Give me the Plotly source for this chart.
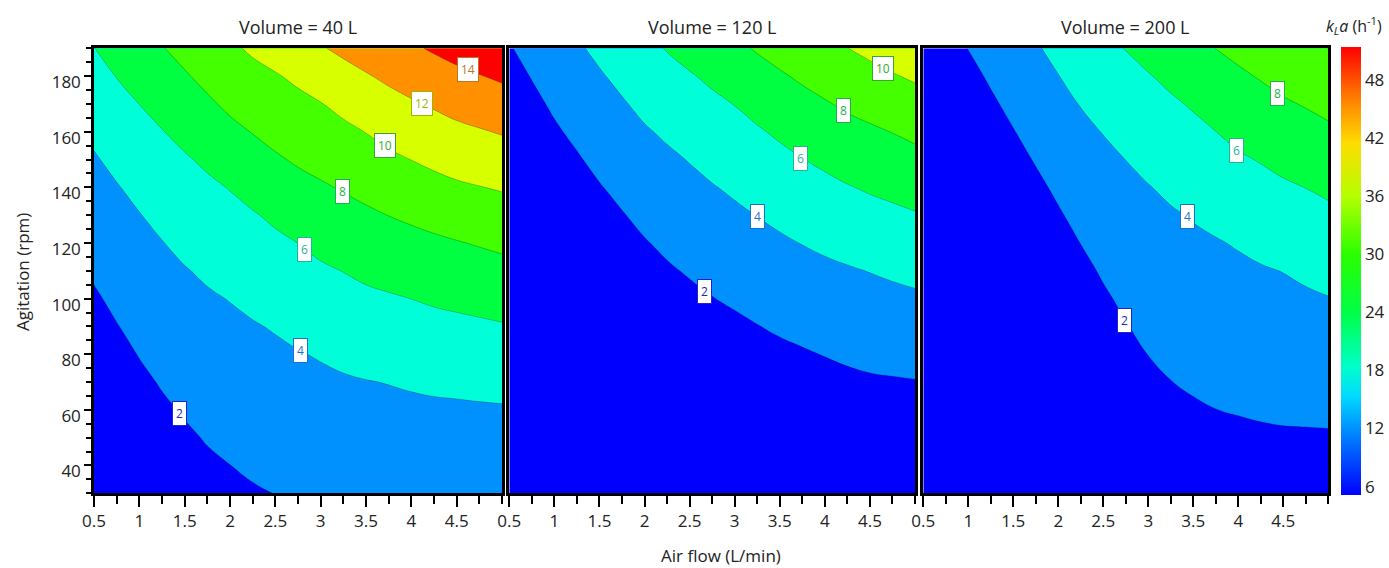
import plotly.graph_objects as go

# ---- data: kLa response surfaces (h^-1) ----
AIR_FLOW = [0.5, 0.75, 1.0, 1.25, 1.5, 1.75, 2.0, 2.25, 2.5, 2.75,
            3.0, 3.25, 3.5, 3.75, 4.0, 4.25, 4.5, 4.75, 5.0]             # L/min
AGITATION = [30, 40, 50, 60, 70, 80, 90, 100, 110, 120,
             130, 140, 150, 160, 170, 180, 190]                           # rpm
VOLUMES = ["40", "120", "200"]                                             # L

# one list per air-flow value, running up the agitation axis (30 -> 190 rpm)
KLA_40L = [
    [0.30, 0.30, 0.30, 0.30, 0.58, 0.99, 1.39, 1.80, 2.21, 2.61, 3.02, 3.43, 3.84, 4.33, 4.89, 5.44, 5.97],
    [0.30, 0.30, 0.37, 0.77, 1.16, 1.55, 1.94, 2.33, 2.73, 3.12, 3.51, 3.90, 4.41, 4.95, 5.50, 6.04, 6.61],
    [0.30, 0.55, 0.93, 1.30, 1.68, 2.06, 2.43, 2.81, 3.19, 3.56, 3.94, 4.44, 4.96, 5.48, 6.01, 6.63, 7.26],
    [0.66, 1.03, 1.39, 1.76, 2.12, 2.49, 2.85, 3.22, 3.58, 3.95, 4.43, 4.94, 5.44, 5.94, 6.59, 7.25, 7.92],
    [1.06, 1.42, 1.77, 2.13, 2.48, 2.84, 3.20, 3.55, 3.91, 4.37, 4.86, 5.34, 5.83, 6.46, 7.15, 7.84, 8.52],
    [1.41, 1.76, 2.10, 2.44, 2.79, 3.13, 3.47, 3.82, 4.23, 4.72, 5.21, 5.70, 6.28, 7.01, 7.74, 8.44, 9.11],
    [1.66, 1.99, 2.34, 2.68, 3.02, 3.35, 3.69, 4.05, 4.55, 5.05, 5.55, 6.07, 6.83, 7.59, 8.32, 9.00, 9.69],
    [1.87, 2.20, 2.54, 2.88, 3.21, 3.55, 3.89, 4.34, 4.85, 5.36, 5.87, 6.56, 7.32, 8.06, 8.77, 9.48, 10.26],
    [2.02, 2.36, 2.70, 3.05, 3.39, 3.73, 4.11, 4.64, 5.16, 5.68, 6.29, 7.04, 7.80, 8.50, 9.18, 9.86, 10.80],
    [2.15, 2.50, 2.86, 3.21, 3.56, 3.92, 4.41, 4.95, 5.48, 6.01, 6.75, 7.48, 8.20, 8.87, 9.55, 10.34, 11.33],
    [2.27, 2.63, 2.99, 3.35, 3.71, 4.11, 4.66, 5.22, 5.77, 6.41, 7.11, 7.81, 8.52, 9.23, 9.94, 10.89, 11.87],
    [2.36, 2.73, 3.10, 3.47, 3.84, 4.33, 4.89, 5.46, 6.03, 6.73, 7.42, 8.13, 8.87, 9.61, 10.46, 11.40, 12.36],
    [2.45, 2.83, 3.20, 3.58, 3.95, 4.51, 5.10, 5.68, 6.32, 7.02, 7.72, 8.47, 9.25, 10.04, 10.95, 11.87, 12.82],
    [2.53, 2.90, 3.28, 3.65, 4.04, 4.64, 5.24, 5.84, 6.54, 7.28, 8.02, 8.84, 9.66, 10.53, 11.42, 12.33, 13.29],
    [2.60, 2.97, 3.35, 3.72, 4.15, 4.77, 5.39, 6.01, 6.76, 7.50, 8.28, 9.15, 10.02, 10.91, 11.81, 12.78, 13.76],
    [2.65, 3.02, 3.40, 3.77, 4.25, 4.89, 5.53, 6.20, 6.95, 7.71, 8.55, 9.46, 10.37, 11.27, 12.19, 13.19, 14.20],
    [2.70, 3.07, 3.44, 3.80, 4.31, 4.97, 5.64, 6.35, 7.13, 7.91, 8.82, 9.75, 10.68, 11.61, 12.58, 13.59, 14.62],
    [2.74, 3.11, 3.47, 3.84, 4.38, 5.07, 5.75, 6.51, 7.31, 8.12, 9.03, 9.95, 10.90, 11.86, 12.89, 13.93, 15.03],
    [2.78, 3.14, 3.51, 3.87, 4.46, 5.17, 5.88, 6.67, 7.49, 8.33, 9.23, 10.15, 11.13, 12.13, 13.19, 14.27, 15.45],
]
KLA_120L = [
    [0.30, 0.30, 0.30, 0.30, 0.30, 0.30, 0.30, 0.30, 0.30, 0.30, 0.30, 0.30, 0.30, 0.54, 0.99, 1.44, 1.89],
    [0.30, 0.30, 0.30, 0.30, 0.30, 0.30, 0.30, 0.30, 0.30, 0.30, 0.30, 0.30, 0.71, 1.16, 1.62, 2.07, 2.52],
    [0.30, 0.30, 0.30, 0.30, 0.30, 0.30, 0.30, 0.30, 0.30, 0.30, 0.43, 0.89, 1.34, 1.79, 2.24, 2.70, 3.15],
    [0.30, 0.30, 0.30, 0.30, 0.30, 0.30, 0.30, 0.30, 0.30, 0.39, 0.88, 1.36, 1.85, 2.33, 2.81, 3.30, 3.78],
    [0.30, 0.30, 0.30, 0.30, 0.30, 0.30, 0.30, 0.30, 0.47, 0.95, 1.43, 1.91, 2.40, 2.88, 3.36, 3.84, 4.37],
    [0.30, 0.30, 0.30, 0.30, 0.30, 0.30, 0.30, 0.46, 0.94, 1.43, 1.91, 2.40, 2.88, 3.37, 3.85, 4.39, 4.95],
    [0.30, 0.30, 0.30, 0.30, 0.30, 0.30, 0.45, 0.94, 1.42, 1.90, 2.39, 2.87, 3.35, 3.84, 4.38, 4.95, 5.52],
    [0.30, 0.30, 0.30, 0.30, 0.30, 0.39, 0.87, 1.34, 1.82, 2.29, 2.76, 3.24, 3.71, 4.24, 4.85, 5.46, 6.09],
    [0.30, 0.30, 0.30, 0.30, 0.30, 0.70, 1.18, 1.66, 2.14, 2.62, 3.10, 3.58, 4.07, 4.67, 5.26, 5.86, 6.61],
    [0.30, 0.30, 0.30, 0.30, 0.49, 0.98, 1.47, 1.96, 2.44, 2.93, 3.42, 3.91, 4.48, 5.06, 5.65, 6.32, 7.13],
    [0.30, 0.30, 0.30, 0.30, 0.71, 1.21, 1.71, 2.21, 2.71, 3.21, 3.71, 4.25, 4.85, 5.44, 6.04, 6.85, 7.65],
    [0.30, 0.30, 0.30, 0.41, 0.92, 1.44, 1.96, 2.48, 2.99, 3.51, 4.03, 4.63, 5.22, 5.82, 6.56, 7.35, 8.15],
    [0.30, 0.30, 0.30, 0.63, 1.15, 1.68, 2.20, 2.72, 3.25, 3.77, 4.35, 4.96, 5.58, 6.26, 7.03, 7.81, 8.61],
    [0.30, 0.30, 0.30, 0.77, 1.31, 1.86, 2.40, 2.95, 3.49, 4.04, 4.68, 5.32, 5.96, 6.71, 7.47, 8.25, 9.06],
    [0.30, 0.30, 0.43, 0.97, 1.51, 2.05, 2.60, 3.14, 3.69, 4.28, 4.94, 5.60, 6.31, 7.09, 7.86, 8.68, 9.52],
    [0.30, 0.30, 0.60, 1.14, 1.69, 2.23, 2.77, 3.31, 3.86, 4.52, 5.21, 5.91, 6.68, 7.46, 8.26, 9.12, 9.98],
    [0.30, 0.30, 0.71, 1.26, 1.82, 2.37, 2.93, 3.48, 4.04, 4.75, 5.46, 6.18, 6.96, 7.74, 8.60, 9.50, 10.40],
    [0.30, 0.30, 0.72, 1.30, 1.88, 2.46, 3.03, 3.61, 4.24, 4.95, 5.66, 6.42, 7.23, 8.04, 8.96, 9.88, 10.82],
    [0.30, 0.30, 0.73, 1.34, 1.94, 2.54, 3.15, 3.75, 4.43, 5.16, 5.88, 6.69, 7.52, 8.38, 9.30, 10.23, 11.23],
]
KLA_200L = [
    [0.30, 0.30, 0.30, 0.30, 0.30, 0.30, 0.30, 0.30, 0.30, 0.30, 0.30, 0.30, 0.30, 0.30, 0.30, 0.40, 0.85],
    [0.30, 0.30, 0.30, 0.30, 0.30, 0.30, 0.30, 0.30, 0.30, 0.30, 0.30, 0.30, 0.30, 0.30, 0.51, 0.96, 1.41],
    [0.30, 0.30, 0.30, 0.30, 0.30, 0.30, 0.30, 0.30, 0.30, 0.30, 0.30, 0.30, 0.30, 0.68, 1.13, 1.58, 2.03],
    [0.30, 0.30, 0.30, 0.30, 0.30, 0.30, 0.30, 0.30, 0.30, 0.30, 0.30, 0.47, 0.90, 1.33, 1.77, 2.20, 2.63],
    [0.30, 0.30, 0.30, 0.30, 0.30, 0.30, 0.30, 0.30, 0.30, 0.30, 0.64, 1.07, 1.51, 1.94, 2.37, 2.81, 3.24],
    [0.30, 0.30, 0.30, 0.30, 0.30, 0.30, 0.30, 0.30, 0.37, 0.80, 1.24, 1.67, 2.11, 2.54, 2.98, 3.41, 3.85],
    [0.30, 0.30, 0.30, 0.30, 0.30, 0.30, 0.30, 0.58, 1.01, 1.43, 1.85, 2.27, 2.70, 3.12, 3.54, 3.97, 4.42],
    [0.30, 0.30, 0.30, 0.30, 0.30, 0.39, 0.80, 1.21, 1.61, 2.02, 2.43, 2.83, 3.24, 3.65, 4.06, 4.51, 4.97],
    [0.30, 0.30, 0.30, 0.30, 0.67, 1.04, 1.42, 1.79, 2.17, 2.54, 2.92, 3.29, 3.66, 4.05, 4.54, 5.03, 5.52],
    [0.30, 0.30, 0.57, 0.91, 1.25, 1.60, 1.94, 2.29, 2.63, 2.97, 3.32, 3.66, 4.01, 4.52, 5.02, 5.54, 6.06],
    [0.41, 0.73, 1.05, 1.37, 1.70, 2.02, 2.34, 2.66, 2.98, 3.30, 3.62, 3.94, 4.41, 4.90, 5.41, 5.91, 6.55],
    [0.74, 1.05, 1.36, 1.67, 1.98, 2.30, 2.61, 2.92, 3.23, 3.54, 3.85, 4.27, 4.77, 5.27, 5.77, 6.36, 7.04],
    [0.90, 1.22, 1.53, 1.85, 2.16, 2.48, 2.80, 3.11, 3.43, 3.74, 4.10, 4.60, 5.10, 5.61, 6.16, 6.84, 7.53],
    [1.03, 1.35, 1.67, 1.99, 2.31, 2.63, 2.94, 3.26, 3.58, 3.90, 4.37, 4.91, 5.45, 5.99, 6.66, 7.34, 8.02],
    [1.08, 1.41, 1.74, 2.07, 2.41, 2.74, 3.07, 3.40, 3.73, 4.11, 4.67, 5.24, 5.80, 6.42, 7.08, 7.74, 8.41],
    [1.10, 1.45, 1.80, 2.15, 2.49, 2.84, 3.19, 3.53, 3.88, 4.37, 4.94, 5.51, 6.09, 6.77, 7.44, 8.12, 8.81],
    [1.12, 1.48, 1.84, 2.21, 2.57, 2.93, 3.30, 3.66, 4.03, 4.62, 5.20, 5.78, 6.43, 7.12, 7.81, 8.51, 9.21],
    [1.08, 1.46, 1.85, 2.24, 2.63, 3.02, 3.40, 3.79, 4.27, 4.85, 5.44, 6.02, 6.72, 7.41, 8.11, 8.86, 9.60],
    [1.02, 1.44, 1.86, 2.28, 2.69, 3.11, 3.53, 3.95, 4.50, 5.09, 5.67, 6.30, 7.00, 7.71, 8.45, 9.24, 10.02],
]

# contour levels that carry a label, per panel, with the point on the line
LEVELS_40L = [2, 4, 6, 8, 10, 12, 14]
LABEL_AT_40L = [(1.44, 58.8), (2.78, 81.5), (2.82, 117.5), (3.24, 138.5),
                (3.71, 154.9), (4.12, 170.0), (4.62, 182.2)]
LEVELS_120L = [2, 4, 6, 8, 10]
LABEL_AT_120L = [(2.67, 102.5), (3.25, 129.5), (3.73, 150.4), (4.21, 167.6),
                 (4.64, 182.8)]
LEVELS_200L = [2, 4, 6, 8]
LABEL_AT_200L = [(2.74, 92.3), (3.43, 129.5), (3.98, 153.4), (4.44, 173.8)]

X_TICKS = [0.5, 1, 1.5, 2, 2.5, 3, 3.5, 4, 4.5]
Y_TICKS = [40, 60, 80, 100, 120, 140, 160, 180]
CB_TICKS = [6, 12, 18, 24, 30, 36, 42, 48]
CB_RANGE = (5.17, 51.4)

# ---- styling ----
W, H = 1389, 568
FONT = "Open Sans, Noto Sans, sans-serif"
TXT = "#222222"

BAND_COLORS = ["#0000ff", "#0091ff", "#00ffd9", "#00ff40",
               "#44ff00", "#d8ff00", "#ff9000", "#ff0000"]
LABEL_COLORS = {2: "#2323c8", 4: "#1f6fd0", 6: "#22b59c", 8: "#25b04c",
                10: "#3aa82a", 12: "#a0b400", 14: "#b8762a"}

# stepped scale: band k (below 2, 2-4, ..., above 14) sits at k/7
n = len(BAND_COLORS) - 1
band_scale = []
for k, c in enumerate(BAND_COLORS):
    lo = 0.0 if k == 0 else (k - 0.5) / n
    hi = 1.0 if k == n else (k + 0.5) / n
    band_scale += [[lo, c], [hi, c]]

JET = [[0.0, "#0000ff"], [0.083, "#0050ff"], [0.148, "#0090ff"],
       [0.223, "#00dcff"], [0.288, "#00ffc8"], [0.407, "#00ff46"],
       [0.537, "#2aff00"], [0.667, "#b4ff00"], [0.786, "#ffdc00"],
       [0.872, "#ff8c00"], [1.0, "#ff0000"]]


def px_x(p):
    return p / W


def px_y(p):
    return (H - p) / H


def grid(columns):
    # columns are per air-flow value; plotly wants rows per agitation value
    return [list(row) for row in zip(*columns)]


X_DOMAINS = [(94, 502), (509.3, 915), (923.3, 1328.3)]
Y_DOMAIN = [px_y(493.3), px_y(48.3)]

fig = go.Figure()
panels = [(KLA_40L, LEVELS_40L, LABEL_AT_40L),
          (KLA_120L, LEVELS_120L, LABEL_AT_120L),
          (KLA_200L, LEVELS_200L, LABEL_AT_200L)]

annotations = []
for i, (cols, levels, spots) in enumerate(panels):
    ax = "" if i == 0 else str(i + 1)
    fig.add_trace(go.Contour(
        x=AIR_FLOW, y=AGITATION, z=grid(cols),
        autocontour=False,
        contours=dict(start=2, end=14, size=2, coloring="fill"),
        colorscale=band_scale, showscale=False,
        line=dict(width=0.7, color="rgba(0,0,0,0.35)", smoothing=1.3),
        hoverinfo="skip",
        xaxis="x" + ax, yaxis="y" + ax,
    ))
    for lev, (lx, ly) in zip(levels, spots):
        col = LABEL_COLORS[lev]
        annotations.append(dict(
            x=lx, y=ly, xref="x" + ax, yref="y" + ax, text=str(lev),
            showarrow=False, font=dict(size=12, color=col, family=FONT),
            bgcolor="white", bordercolor=col, borderwidth=1, borderpad=3,
        ))
    x0, x1 = X_DOMAINS[i]
    annotations.append(dict(
        x=px_x((x0 + x1) / 2), y=px_y(27), xref="paper", yref="paper",
        text=f"Volume = {VOLUMES[i]} L", showarrow=False,
        font=dict(size=18, color=TXT, family=FONT),
        xanchor="center", yanchor="middle",
    ))

# colour bar for kLa
fig.add_trace(go.Scatter(
    x=[None], y=[None], mode="markers", showlegend=False, hoverinfo="skip",
    marker=dict(size=0, color=[CB_RANGE[0]], cmin=CB_RANGE[0], cmax=CB_RANGE[1],
                colorscale=JET, showscale=True,
                colorbar=dict(
                    x=px_x(1341), xanchor="left", xpad=0,
                    y=px_y(46.7), yanchor="top", ypad=0,
                    len=448.3, lenmode="pixels",
                    thickness=20, thicknessmode="pixels",
                    outlinewidth=0, ticks="", tickvals=CB_TICKS,
                    tickfont=dict(size=17, color=TXT, family=FONT),
                )),
))

annotations += [
    dict(x=px_x(1354), y=px_y(25), xref="paper", yref="paper",
         text="<i>k</i><sub><i>L</i></sub><i>a</i> (h<sup>-1</sup>)",
         showarrow=False, font=dict(size=16, color=TXT, family=FONT),
         xanchor="center", yanchor="middle"),
    dict(x=px_x(721), y=px_y(555), xref="paper", yref="paper",
         text="Air flow (L/min)", showarrow=False,
         font=dict(size=17, color=TXT, family=FONT),
         xanchor="center", yanchor="middle"),
    dict(x=px_x(22), y=px_y(272), xref="paper", yref="paper",
         text="Agitation (rpm)", showarrow=False, textangle=-90,
         font=dict(size=17, color=TXT, family=FONT),
         xanchor="center", yanchor="middle"),
]

axis_common = dict(showline=True, mirror=True, linecolor="black", linewidth=2.5,
                   showgrid=False, zeroline=False, automargin=False)

layout = dict(
    width=W, height=H, margin=dict(l=0, r=0, t=0, b=0),
    paper_bgcolor="white", plot_bgcolor="white",
    font=dict(family=FONT, color=TXT), showlegend=False,
    annotations=annotations,
)
for i in range(3):
    ax = "" if i == 0 else str(i + 1)
    x0, x1 = X_DOMAINS[i]
    layout["xaxis" + ax] = dict(
        axis_common, domain=[px_x(x0), px_x(x1)], range=[0.5, 5.0],
        anchor="y" + ax, tickvals=X_TICKS, ticktext=[f"{v:g}" for v in X_TICKS],
        ticks="outside", ticklen=11, tickwidth=2, tickcolor="black",
        tickfont=dict(size=17, color=TXT, family=FONT),
        minor=dict(tick0=0.5, dtick=0.25, ticks="outside", ticklen=8,
                   tickwidth=2, tickcolor="black"),
    )
    ydict = dict(axis_common, domain=Y_DOMAIN, range=[30, 190], anchor="x" + ax)
    if i == 0:
        ydict.update(tickvals=Y_TICKS, ticks="outside", ticklen=7, tickwidth=2,
                     tickcolor="black", ticklabelshift=6,
                     tickfont=dict(size=17, color=TXT, family=FONT),
                     minor=dict(dtick=5, tick0=30, ticks="outside", ticklen=5,
                                tickwidth=2, tickcolor="black"))
    else:
        ydict.update(showticklabels=False, ticks="", matches="y")
    layout["yaxis" + ax] = ydict

fig.update_layout(**layout)
fig.write_html("out.html")
